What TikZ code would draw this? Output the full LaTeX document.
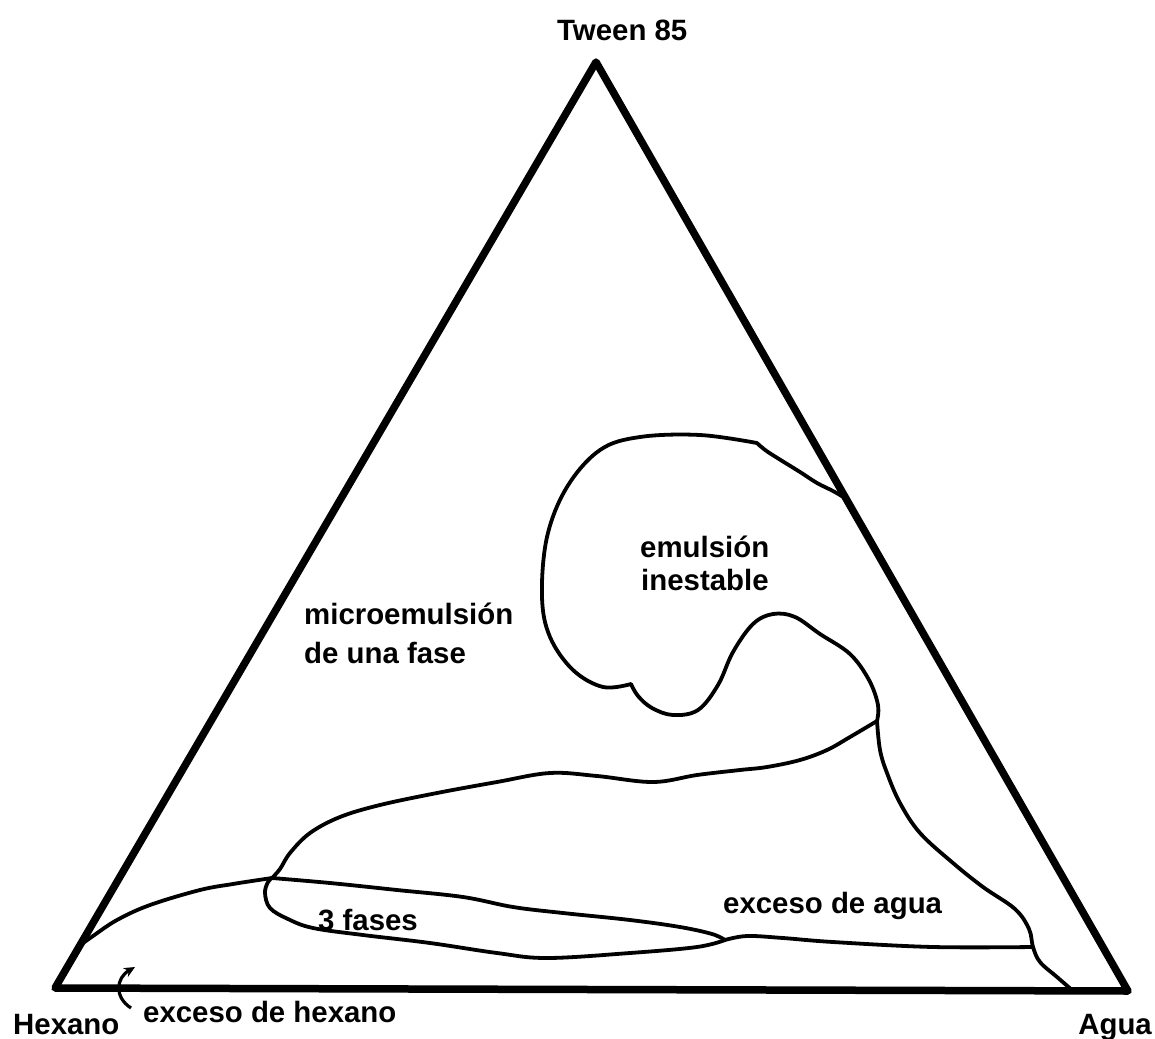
\documentclass[tikz,border=0pt]{standalone}
\usepackage{fontspec}
\setmainfont{Liberation Sans}
\usetikzlibrary{arrows.meta}
\tikzset{
  frame/.style={line width=7.5bp, line join=round, line cap=round},
  phase/.style={line width=3.8bp, line join=round, line cap=round},
  lbl/.style={inner sep=0pt, anchor=base west, font=\fontsize{29.5}{34}\selectfont\bfseries}
}
\begin{document}
\begin{tikzpicture}[x=1bp,y=-1bp]
\useasboundingbox (0,0) rectangle (1155,1039);
% vertices
\coordinate (hex) at (55,988);
\coordinate (agu) at (1128,991);
\coordinate (twe) at (596,62);
\draw[frame] (hex) -- (twe) -- (agu) -- cycle;
% junctions
\coordinate (E1) at (845,498);
\coordinate (J1) at (877,721);
\coordinate (J2) at (272,878);
\coordinate (T) at (725,940);
\coordinate (J3) at (1033,947);
\coordinate (L1) at (79,946);
\coordinate (B1) at (1072,990);
% emulsion inestable blob
\draw[phase] plot[smooth,tension=0.55] coordinates {(E1) (833,491) (817,483) (800,472) (768,452) (757,443)};
\draw[phase] plot[smooth,tension=0.6] coordinates {(757,443) (700,435) (640,437) (600,450) (567,487) (547,537) (542,597) (550,637) (573,670) (603,687) (631,684)};
\draw[phase] plot[smooth,tension=0.6] coordinates {(631,684) (638,696) (652,708) (673,715) (698,710) (718,685) (733,652) (753,624) (773,614) (795,617) (820,634) (850,654) (869,680) (878,705) (J1)};
% upper boundary of big lobe
\draw[phase] plot[smooth,tension=0.6] coordinates {(J1) (850,737) (827,750) (800,760) (767,767) (740,770) (697,775) (653,782) (597,776) (550,773) (497,782) (437,793) (380,805) (340,817) (310,833) (290,853) (280,869) (J2)};
% left curve from hexano side
\draw[phase] plot[smooth,tension=0.6] coordinates {(L1) (93,936) (117,920) (150,905) (200,890) (233,884) (252,881) (J2)};
% 3 fases lobe
\draw[phase] plot[smooth,tension=0.6] coordinates {(J2) (330,883) (397,890) (463,897) (513,907) (563,913) (630,920) (680,927) (712,934) (T)};
\draw[phase] plot[smooth,tension=0.6] coordinates {(T) (697,947) (630,953) (547,958) (497,953) (430,943) (363,935) (313,928) (288,919) (270,908) (265,893) (268,882) (J2)};
% exceso de agua boundary
\draw[phase] plot[smooth,tension=0.6] coordinates {(T) (747,936) (783,938) (833,942) (933,947) (J3)};
\draw[phase] plot[smooth,tension=0.6] coordinates {(J1) (880,750) (887,773) (900,803) (920,833) (953,863) (983,887) (1015,909) (1029,929) (J3) (1040,962) (1057,977) (B1)};
% small arrow
\coordinate (a0) at (131,1008);
\coordinate (a1) at (135,967);
\draw[line width=3.2bp, -{Stealth[length=11bp,width=10bp]}] (a0) .. controls (114,997) and (116,978) .. (a1);
% labels
\node[lbl] (tw) at (557,40) {Tween 85};
\node[lbl] (hx) at (13,1034) {Hexano};
\node[lbl, anchor=base east] (ag) at (1152,1034) {Agua};
\node[lbl] (eh) at (143,1022) {exceso de hexano};
\node[lbl] (em) at (640,557) {emulsión};
\node[lbl] (in) at (641,590) {inestable};
\node[lbl] (mi) at (304,624) {microemulsión};
\node[lbl] (du) at (304,663) {de una fase};
\node[lbl] (tf) at (318,930) {3 fases};
\node[lbl] (ea) at (723,913) {exceso de agua};
\end{tikzpicture}
\end{document}
